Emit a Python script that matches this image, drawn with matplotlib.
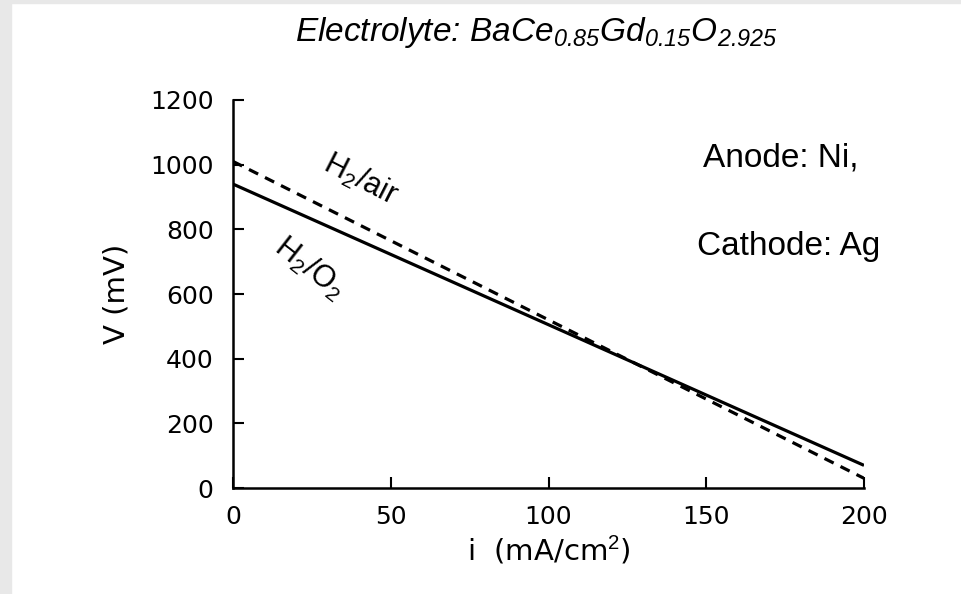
import matplotlib
matplotlib.use("Agg")
import matplotlib.pyplot as plt
from matplotlib.patches import Rectangle

# current density (mA/cm2) and cell voltage (mV)
i_vals = [0, 200]
v_h2_o2 = [940, 70]
v_h2_air = [1010, 30]

xticks = [0, 50, 100, 150, 200]
yticks = [0, 200, 400, 600, 800, 1000, 1200]

plt.rcParams['font.family'] = ['Liberation Sans', 'DejaVu Sans']
plt.rcParams['mathtext.fontset'] = 'custom'
plt.rcParams['mathtext.rm'] = 'Liberation Sans'
plt.rcParams['mathtext.it'] = 'Liberation Sans:italic'
plt.rcParams['mathtext.sf'] = 'Liberation Sans:italic'

fig = plt.figure(figsize=(9.61, 5.94), dpi=100)
# grey frame of the scanned page
fig.patches.append(Rectangle((0, 0), 11 / 961, 1, transform=fig.transFigure,
                             color='#e8e8e8', zorder=0))
fig.patches.append(Rectangle((0, 1 - 3 / 594), 1, 3 / 594, transform=fig.transFigure,
                             color='#e8e8e8', zorder=0))

ax = fig.add_axes([233 / 961, 1 - 488 / 594, 631 / 961, 388 / 594])

ax.plot(i_vals, v_h2_o2, color='black', lw=2.3, solid_capstyle='butt')
ax.plot(i_vals, v_h2_air, color='black', lw=2.3, dashes=(3.2, 2.4))

ax.set_xlim(0, 200)
ax.set_ylim(0, 1200)
ax.set_xticks(xticks)
ax.set_yticks(yticks)
for s in ['top', 'right']:
    ax.spines[s].set_visible(False)
for s in ['left', 'bottom']:
    ax.spines[s].set_linewidth(1.8)
ax.tick_params(direction='in', length=8, width=1.5, labelsize=18)
ax.tick_params(axis='y', pad=14)
ax.tick_params(axis='x', pad=12)
for lab in ax.get_xticklabels() + ax.get_yticklabels():
    lab.set_family('DejaVu Sans')

ax.set_xlabel('i  (mA/cm$^2$)', fontsize=21, family='DejaVu Sans', labelpad=4)
ax.set_ylabel('V (mV)', fontsize=21, family='DejaVu Sans', labelpad=14)

ax.text(40.3, 953, 'H$_2$/air', fontsize=22, rotation=-27,
        ha='center', va='center')
ax.text(24.4, 680, 'H$_2$/O$_2$', fontsize=22, rotation=-38,
        ha='center', va='center')

ax.text(149, 1021, 'Anode: Ni,', fontsize=24, ha='left', va='center')
ax.text(147, 748, 'Cathode: Ag', fontsize=24, ha='left', va='center')

fig.text(536 / 961, 1 - 33 / 594,
         r'Electrolyte: BaCe$_{\mathsf{0.85}}$Gd$_{\mathsf{0.15}}$O$_{\mathsf{2.925}}$',
         fontsize=24, style='italic', ha='center', va='center')

fig.savefig('out.png', dpi=100)
